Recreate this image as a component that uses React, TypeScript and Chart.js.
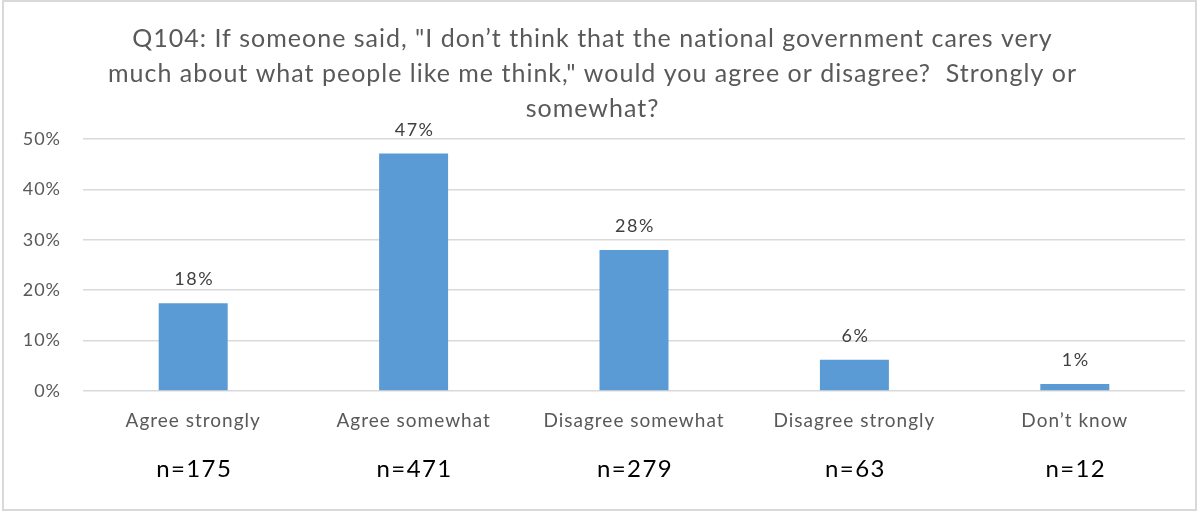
import React, { useEffect, useRef } from "react";
import { Chart, registerables } from "chart.js";

Chart.register(...registerables);

const titleLines = [
  'Q104: If someone said, "I don’t think that the national government cares very',
  'much about what people like me think," would you agree or disagree?  Strongly or',
  "somewhat?",
];
const categories = ["Agree strongly", "Agree somewhat", "Disagree somewhat", "Disagree strongly", "Don’t know"];
const percentValues = [17.4, 47.1, 28.0, 6.2, 1.4];
const valueLabels = ["18%", "47%", "28%", "6%", "1%"];
const sampleSizes = ["n=175", "n=471", "n=279", "n=63", "n=12"];
const yTicks = [0, 10, 20, 30, 40, 50];

const FONT = "Lato";
const SPACING = "1px";

const spacingPlugin = {
  id: "letterSpacing",
  afterInit(chart: any) {
    chart.ctx.letterSpacing = SPACING;
  },
  beforeUpdate(chart: any) {
    chart.ctx.letterSpacing = SPACING;
  },
  beforeDraw(chart: any) {
    chart.ctx.letterSpacing = SPACING;
  },
};

const borderPlugin = {
  id: "frameBorder",
  beforeDraw(chart: any) {
    const ctx = chart.ctx;
    ctx.save();
    ctx.fillStyle = "#ffffff";
    ctx.fillRect(0, 0, chart.width, chart.height);
    ctx.strokeStyle = "#d9d9d9";
    ctx.lineWidth = 2;
    ctx.strokeRect(3, 1, 1193, 509);
    ctx.restore();
  },
};

const valueLabelPlugin = {
  id: "valueLabels",
  afterDatasetsDraw(chart: any) {
    const ctx = chart.ctx;
    const meta = chart.getDatasetMeta(0);
    ctx.save();
    ctx.font = `18px ${FONT}`;
    ctx.letterSpacing = "1.5px";
    ctx.fillStyle = "#404040";
    ctx.textAlign = "center";
    ctx.textBaseline = "alphabetic";
    meta.data.forEach((bar: any, i: number) => {
      ctx.fillText(valueLabels[i], bar.x + 1, bar.y - 18);
    });
    ctx.restore();
  },
};

const sampleSizePlugin = {
  id: "sampleSizes",
  afterDraw(chart: any) {
    const ctx = chart.ctx;
    const xScale = chart.scales.x;
    ctx.save();
    ctx.font = `24px ${FONT}`;
    ctx.letterSpacing = "1.4px";
    ctx.fillStyle = "#000000";
    ctx.textAlign = "center";
    ctx.textBaseline = "alphabetic";
    sampleSizes.forEach((s, i) => {
      ctx.fillText(s, xScale.getPixelForValue(i) + 1, chart.chartArea.bottom + 86);
    });
    ctx.restore();
  },
};

export default function App() {
  const ref = useRef<HTMLCanvasElement>(null);
  useEffect(() => {
    const chart = new Chart(ref.current!, {
      type: "bar",
      data: {
        labels: categories,
        datasets: [
          {
            data: percentValues,
            backgroundColor: "#5B9BD5",
            borderWidth: 0,
            categoryPercentage: 1,
            barPercentage: 0.313,
          },
        ],
      },
      options: {
        responsive: false,
        animation: false,
        layout: { padding: { left: 0, right: 17, top: 0, bottom: 0 } },
        plugins: {
          legend: { display: false },
          tooltip: { enabled: false },
          title: {
            display: true,
            text: titleLines,
            color: "#595959",
            font: { family: FONT, size: 25, weight: "normal", lineHeight: 35 / 25 },
            padding: { top: 21, bottom: 13 },
          },
        },
        scales: {
          x: {
            grid: { display: false, drawTicks: false },
            border: { display: false },
            ticks: { color: "#595959", font: { family: FONT, size: 19 }, padding: 18 },
            afterFit: (s: any) => {
              s.height = 121;
            },
          },
          y: {
            min: 0,
            max: 50,
            afterBuildTicks: (s: any) => {
              s.ticks = yTicks.map((v) => ({ value: v }));
            },
            ticks: {
              color: "#595959",
              font: { family: FONT, size: 18 },
              padding: 22,
              callback: (v: any) => v + "%",
            },
            grid: { color: "#d9d9d9", lineWidth: 1.5, drawTicks: false },
            border: { display: false },
            afterFit: (s: any) => {
              s.width = 83;
            },
          },
        },
      },
      plugins: [spacingPlugin, borderPlugin, valueLabelPlugin, sampleSizePlugin],
    } as any);
    return () => chart.destroy();
  }, []);
  return (
    <div style={{ position: "absolute", left: 0, top: 0, width: 1202, height: 512 }}>
      <canvas ref={ref} width={1202} height={512} style={{ display: "block" }} />
    </div>
  );
}
